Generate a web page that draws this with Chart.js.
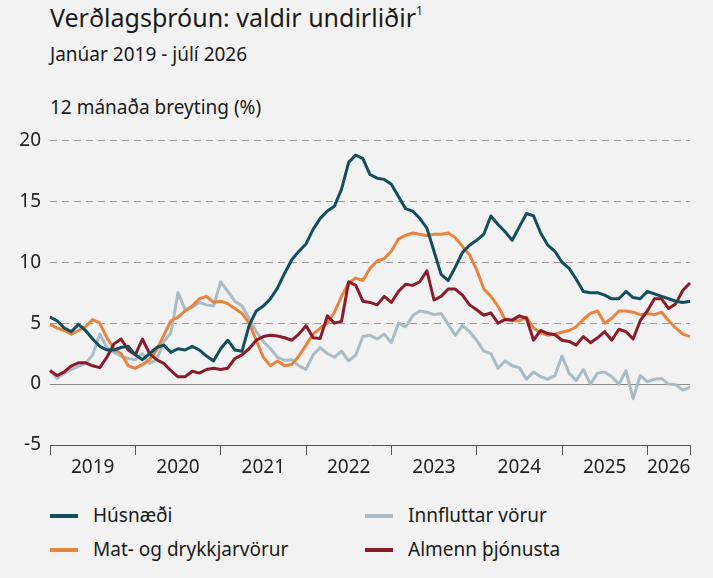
<!DOCTYPE html>
<html lang="is">
<head>
<meta charset="utf-8">
<script src="https://cdn.jsdelivr.net/npm/chart.js@4"></script>
<style>
  html, body { margin: 0; padding: 0; background: #f2f2f2; }
  body { width: 713px; height: 578px; position: relative; overflow: hidden;
         font-family: "Noto Sans", "Open Sans", sans-serif; color: #1a1a1a; }
  .txt { position: absolute; left: 50px; line-height: 1; white-space: nowrap; }
  .title { top: 5px; font-size: 25px; }
  .title sup { font-size: 12px; vertical-align: 12px; }
  .sub { top: 45px; font-size: 19px; }
  .unit { top: 98px; font-size: 19px; }
  #wrap { position: absolute; left: 0; top: 120px; width: 713px; height: 360px; }
  .leg { position: absolute; font-size: 19px; line-height: 1; display: flex; align-items: center; }
  .leg i { display: inline-block; width: 28px; height: 4px; margin-right: 15px; }
</style>
</head>
<body>
<div class="txt title">Verðlagsþróun: valdir undirliðir<sup>1</sup></div>
<div class="txt sub">Janúar 2019 - júlí 2026</div>
<div class="txt unit">12 mánaða breyting (%)</div>
<div id="wrap"><canvas id="chart" width="713" height="360"></canvas></div>
<div id="legend"></div>

<script>
// months Jan 2019 .. Jul 2026
const years = [2019, 2020, 2021, 2022, 2023, 2024, 2025, 2026];
const months = [];
years.forEach(y => {
  for (let m = 1; m <= 12; m++) {
    if (y === 2026 && m > 7) break;
    months.push(y + '-' + String(m).padStart(2, '0'));
  }
});

const husnaedi = [
  5.5, 5.2, 4.6, 4.3, 4.9, 4.4, 3.7, 3.1, 2.8, 2.8, 3.0, 3.1,
  2.4, 2.0, 2.5, 3.0, 3.2, 2.6, 2.9, 2.8, 3.1, 2.8, 2.3, 1.9,
  2.9, 3.6, 2.8, 2.7, 4.8, 6.0, 6.4, 7.0, 7.9, 9.1, 10.2, 10.9,
  11.5, 12.7, 13.6, 14.2, 14.6, 16.0, 18.2, 18.8, 18.5, 17.2, 16.9, 16.8,
  16.4, 15.4, 14.4, 14.2, 13.6, 12.8, 10.9, 9.0, 8.5, 9.6, 10.8, 11.4,
  11.8, 12.3, 13.8, 13.1, 12.5, 11.8, 12.9, 14.0, 13.8, 12.4, 11.4, 10.9,
  10.0, 9.5, 8.6, 7.6, 7.5, 7.5, 7.3, 7.0, 7.0, 7.6, 7.1, 7.0,
  7.6, 7.4, 7.2, 7.0, 6.8, 6.7, 6.8
];
const matvorur = [
  4.9, 4.6, 4.4, 4.1, 4.4, 4.7, 5.3, 5.0, 3.8, 2.9, 2.5, 1.5,
  1.3, 1.6, 2.0, 2.8, 4.0, 5.2, 5.5, 6.0, 6.4, 7.0, 7.2, 6.7,
  6.8, 6.6, 6.2, 5.8, 5.0, 3.6, 2.2, 1.5, 1.9, 1.5, 1.6, 2.3,
  3.2, 4.1, 4.6, 5.0, 5.9, 7.2, 8.3, 8.7, 8.5, 9.5, 10.1, 10.3,
  10.9, 11.9, 12.2, 12.4, 12.3, 12.2, 12.3, 12.3, 12.4, 12.0, 11.3, 10.6,
  9.4, 7.8, 7.2, 6.4, 5.3, 5.2, 5.2, 5.5, 4.6, 4.2, 4.0, 4.1,
  4.25, 4.4, 4.7, 5.3, 5.8, 6.0, 5.0, 5.4, 6.0, 6.0, 5.9, 5.7,
  5.8, 5.7, 5.9, 5.2, 4.6, 4.1, 3.9
];
const innflutt = [
  1.2, 0.45, 0.9, 1.2, 1.45, 1.7, 2.4, 4.1, 3.0, 2.6, 2.3, 2.1,
  2.0, 2.5, 1.7, 2.0, 3.5, 4.2, 7.5, 6.1, 6.3, 6.7, 6.5, 6.4,
  8.4, 7.6, 6.8, 6.4, 5.4, 4.3, 3.5, 2.9, 2.2, 1.95, 2.0, 1.5,
  1.2, 2.4, 3.0, 2.5, 2.2, 2.7, 1.9, 2.4, 3.9, 4.0, 3.7, 4.1,
  3.4, 5.0, 4.7, 5.6, 6.0, 5.9, 5.7, 5.8, 4.9, 4.0, 4.8, 4.3,
  3.6, 2.7, 2.5, 1.3, 1.9, 1.5, 1.35, 0.4, 1.0, 0.6, 0.4, 0.7,
  2.3, 0.9, 0.3, 1.2, 0.0, 0.9, 1.0, 0.6, 0.0, 1.1, -1.2, 0.7,
  0.2, 0.4, 0.45, 0.0, -0.05, -0.5, -0.25
];
const thjonusta = [
  1.1, 0.7, 1.0, 1.5, 1.75, 1.75, 1.5, 1.35, 2.2, 3.3, 3.7, 2.8,
  2.4, 3.7, 2.5, 2.0, 1.7, 1.1, 0.6, 0.6, 1.05, 0.9, 1.2, 1.3,
  1.2, 1.3, 2.1, 2.4, 2.9, 3.6, 3.9, 4.0, 3.95, 3.8, 3.6, 4.1,
  4.8, 3.8, 3.75, 5.6, 5.0, 5.15, 8.4, 8.1, 6.8, 6.7, 6.5, 7.2,
  6.7, 7.6, 8.2, 8.1, 8.4, 9.3, 6.9, 7.2, 7.8, 7.8, 7.3, 6.5,
  6.1, 5.65, 5.85, 5.0, 5.3, 5.25, 5.6, 5.4, 3.6, 4.4, 4.15, 4.05,
  3.6, 3.5, 3.2, 3.9, 3.4, 3.8, 4.3, 3.6, 4.5, 4.3, 3.7, 5.2,
  6.0, 7.0, 7.0, 6.2, 6.6, 7.7, 8.3
];

const yTicks = [-5, 0, 5, 10, 15, 20];
// index of the month under each year label (middle of the year span)
const yearLabelAt = { 6: '2019', 18: '2020', 30: '2021', 42: '2022', 54: '2023', 66: '2024', 78: '2025', 87: '2026' };

const series = [
  { label: 'Húsnæði', data: husnaedi, color: '#134e5e' },
  { label: 'Innfluttar vörur', data: innflutt, color: '#a9bcc5' },
  { label: 'Mat- og drykkjarvörur', data: matvorur, color: '#e8843e' },
  { label: 'Almenn þjónusta', data: thjonusta, color: '#8b1b2b' }
];
const drawOrder = { 'Húsnæði': 0, 'Almenn þjónusta': 1, 'Mat- og drykkjarvörur': 2, 'Innfluttar vörur': 3 };

const font = { family: '"Noto Sans", "Open Sans", sans-serif', size: 19 };
const last = months.length - 1;

new Chart(document.getElementById('chart'), {
  type: 'line',
  data: {
    labels: months,
    datasets: series.map(s => ({
      label: s.label,
      data: s.data,
      borderColor: s.color,
      backgroundColor: s.color,
      borderWidth: 3,
      pointRadius: 0,
      tension: 0,
      borderJoinStyle: 'round',
      order: drawOrder[s.label],
      yAxisID: 'y'
    }))
  },
  options: {
    responsive: false,
    animation: false,
    layout: { padding: { top: 12, right: 23, left: 0, bottom: 0 } },
    plugins: { legend: { display: false }, tooltip: { enabled: false } },
    scales: {
      x: {
        offset: false,
        border: { display: true, color: '#555', width: 1 },
        grid: {
          drawOnChartArea: false,
          drawTicks: true,
          tickLength: 10,
          color: ctx => (ctx.index % 12 === 0 || ctx.index === last) ? '#555' : 'rgba(0,0,0,0)'
        },
        ticks: {
          autoSkip: false,
          maxRotation: 0,
          padding: 1,
          color: '#222',
          font: font,
          callback: (v, i) => yearLabelAt[i] || ''
        },
        afterFit: s => { s.height = 35; }
      },
      y: {
        min: yTicks[0],
        max: yTicks[yTicks.length - 1],
        afterBuildTicks: s => { s.ticks = yTicks.map(v => ({ value: v })); },
        border: { display: false, dash: [7, 5] },
        grid: {
          drawTicks: false,
          color: ctx => ctx.tick && ctx.tick.value > 0 ? '#9a9a9a' : 'rgba(0,0,0,0)'
        },
        ticks: { padding: 9, color: '#222', font: font },
        afterFit: s => { s.width = 50; }
      },
      y0: {
        position: 'left',
        min: yTicks[0],
        max: yTicks[yTicks.length - 1],
        afterBuildTicks: s => { s.ticks = yTicks.map(v => ({ value: v })); },
        border: { display: false },
        grid: {
          drawTicks: false,
          color: ctx => ctx.tick && ctx.tick.value === 0 ? '#8a8a8a' : 'rgba(0,0,0,0)'
        },
        ticks: { display: false },
        afterFit: s => { s.width = 0; }
      }
    }
  }
});

// legend in two columns, same order as the original
const legendItems = [
  { name: 'Húsnæði', left: 50, top: 506 },
  { name: 'Innfluttar vörur', left: 365, top: 506 },
  { name: 'Mat- og drykkjarvörur', left: 50, top: 540 },
  { name: 'Almenn þjónusta', left: 365, top: 540 }
];
const legend = document.getElementById('legend');
legendItems.forEach(it => {
  const s = series.find(x => x.label === it.name);
  const d = document.createElement('div');
  d.className = 'leg';
  d.style.left = it.left + 'px';
  d.style.top = it.top + 'px';
  d.innerHTML = '<i style="background:' + s.color + '"></i><span>' + it.name + '</span>';
  legend.appendChild(d);
});
</script>
</body>
</html>
